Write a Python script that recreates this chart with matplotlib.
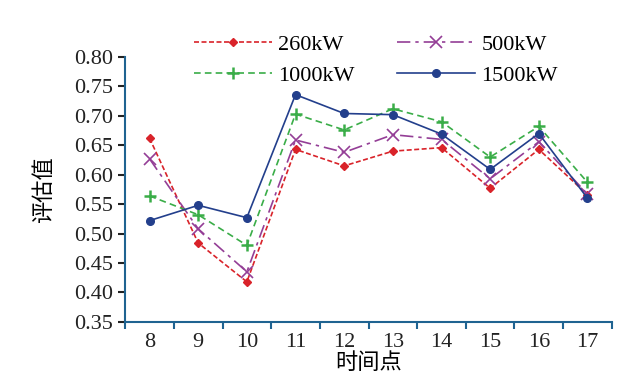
import matplotlib
matplotlib.use('Agg')
import matplotlib.pyplot as plt
import numpy as np

plt.rcParams['font.family'] = ['Liberation Serif', 'Noto Sans CJK SC']
plt.rcParams['axes.unicode_minus'] = False

# 数据
time_points = ['8', '9', '10', '11', '12', '13', '14', '15', '16', '17']
v260 = [0.662, 0.484, 0.418, 0.643, 0.615, 0.640, 0.646, 0.577, 0.643, 0.566]
v500 = [0.627, 0.508, 0.435, 0.659, 0.638, 0.668, 0.660, 0.593, 0.656, 0.567]
v1000 = [0.564, 0.532, 0.480, 0.703, 0.676, 0.712, 0.690, 0.630, 0.682, 0.587]
v1500 = [0.522, 0.548, 0.527, 0.736, 0.704, 0.702, 0.669, 0.609, 0.670, 0.560]
y_ticks = [0.35, 0.40, 0.45, 0.50, 0.55, 0.60, 0.65, 0.70, 0.75, 0.80]

spine_color = '#1f6391'

fig = plt.figure(figsize=(6.42, 3.85), dpi=100)
ax = fig.add_axes([0.195, 0.164, 0.758, 0.688])

x = np.arange(len(time_points))
l1, = ax.plot(x, v260, color='#d9232a', ls=(0, (3, 1.5)), lw=1.2, marker='D', ms=4.5,
              label='260kW')
l2, = ax.plot(x, v500, color='#943e96', ls=(0, (8, 3, 2, 3)), lw=1.2, marker='x', ms=8,
              mew=1.2, label='500kW')
l3, = ax.plot(x, v1000, color='#3aad48', ls=(0, (4, 2.5)), lw=1.2, marker='+', ms=8,
              mew=1.8, label='1000kW')
l4, = ax.plot(x, v1500, color='#233f8c', ls='-', lw=1.2, marker='o', ms=5.5,
              label='1500kW')

ax.set_xlim(-0.5, len(time_points) - 0.5)
ax.set_ylim(0.35, 0.80)
ax.set_yticks(y_ticks)
ax.set_yticklabels([f'{t:.2f}' for t in y_ticks])
ax.set_xticks(x)
ax.set_xticklabels(time_points)
ax.set_xticks(np.arange(len(time_points) + 1) - 0.5, minor=True)
ax.tick_params(axis='x', which='major', length=0, pad=8)
ax.tick_params(axis='x', which='minor', length=5, width=1.5, color=spine_color,
               direction='out')
ax.tick_params(axis='y', length=5, width=1.5, color=spine_color, direction='out')
ax.tick_params(labelsize=16, colors='#222222')
for s in ['top', 'right']:
    ax.spines[s].set_visible(False)
for s in ['left', 'bottom']:
    ax.spines[s].set_color(spine_color)
    ax.spines[s].set_linewidth(1.5)

ax.set_xlabel('时间点', fontsize=16, labelpad=1)
ax.set_ylabel('评估值', fontsize=16, labelpad=14)

# 按行排列图例
leg = ax.legend([l1, l3, l2, l4], ['260kW', '1000kW', '500kW', '1500kW'],
                ncol=2, frameon=False, fontsize=16, loc='upper center',
                bbox_to_anchor=(0.515, 1.16), handlelength=3.5, columnspacing=1.9,
                labelspacing=0.45, handletextpad=0.3)

fig.savefig('out.png', dpi=100)
